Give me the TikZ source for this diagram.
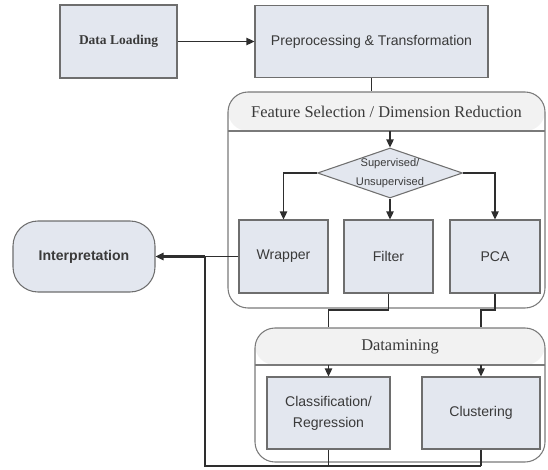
\documentclass[tikz,border=0pt]{standalone}
\usepackage{fontspec}
\setmainfont{Liberation Serif}
\setsansfont{Liberation Sans}
\usepackage{tikz}
\usetikzlibrary{positioning}
\usetikzlibrary{shapes.geometric}
\usetikzlibrary{arrows.meta}
\definecolor{boxfill}{HTML}{E3E7EF}
\definecolor{boxline}{HTML}{6E6E6E}
\definecolor{hdrfill}{HTML}{F2F2F2}
\definecolor{panelline}{HTML}{7A7A7A}
\definecolor{txt}{HTML}{3A3A3A}
\definecolor{wire}{HTML}{2E2E2E}
\tikzset{stepbox/.style={rectangle, draw=boxline, fill=boxfill, line width=0.9pt, inner sep=0pt, text=txt, align=center, font=\sffamily\fontsize{12}{18}\selectfont}}
\tikzset{decide/.style={diamond, draw=boxline, fill=boxfill, line width=0.9pt, inner sep=0pt, minimum width=43.5mm, minimum height=15mm}}
\tikzset{panel/.style={rectangle, rounded corners=6mm, draw=panelline, line width=0.9pt, fill=white, path picture={\fill[hdrfill] (path picture bounding box.north west) rectangle ([yshift=-#1]path picture bounding box.north east); \draw[panelline, line width=0.9pt] ([yshift=-#1]path picture bounding box.north west) -- ([yshift=-#1]path picture bounding box.north east);}}}
\tikzset{hdrtext/.style={text=txt, font=\fontsize{14}{16}\selectfont}}
\tikzset{conn/.style={draw=wire, line width=1.1pt}}
\tikzset{feedback/.style={draw=wire, line width=2pt}}
\tikzset{tip/.style={-{Triangle[length=2.4mm, width=2.2mm]}}}

\begin{document}
\begin{tikzpicture}[x=0.3mm, y=-0.3mm]
    \useasboundingbox (0,0) rectangle (548,470);

    % containers
    \node [panel=11.7mm, minimum width=95.1mm, minimum height=64.8mm](fsel) at (386.5,200){};
    \node [hdrtext](fseltitle) at (386.5,111.5){Feature Selection / Dimension Reduction};
    \node [panel=11.1mm, minimum width=87mm, minimum height=40.2mm](dmine) at (400,395){};
    \node [hdrtext](dminetitle) at (400,346.5){Datamining};
    \coordinate (fselhdr) at (386.5,131);
    \coordinate (dminehdr) at (400,365);

    % steps
    \node [stepbox, minimum width=35.1mm, minimum height=21.9mm, font=\bfseries\fontsize{11.5}{14}\selectfont](dload) at (118.5,41.5){Data Loading};
    \node [stepbox, minimum width=69.9mm, minimum height=21.6mm](prep) at (371.5,41.5){Preprocessing \& Transformation};
    \node [decide](sup) at (390,173){};
    \node [text=txt, align=center, font=\sffamily\fontsize{9.5}{16}\selectfont](suptext) at (sup.center){Supervised/\\Unsupervised};
    \node [stepbox, minimum width=26.7mm, minimum height=21.9mm](wrapper) at (283.5,256.5){Wrapper};
    \node [stepbox, minimum width=26.7mm, minimum height=21.9mm](filter) at (388.5,256.5){Filter};
    \node [stepbox, minimum width=27mm, minimum height=21.9mm](pca) at (495,256.5){PCA};
    \node [stepbox, rounded corners=7.5mm, minimum width=42.6mm, minimum height=21.3mm, font=\sffamily\bfseries\fontsize{12}{14}\selectfont](interp) at (84,256.5){Interpretation};
    \node [stepbox, minimum width=36.9mm, minimum height=21.6mm](classif) at (328.5,413){Classification/\\Regression};
    \node [stepbox, minimum width=35.4mm, minimum height=21.6mm](clust) at (481,413){Clustering};
    \coordinate (bend) at (0,310);
    \coordinate (fbcorner) at (205,466);

    \draw[conn, tip] (dload) -- (prep);
    \draw[conn] (prep.south) -- (prep.south |- fsel.north);
    \draw[conn, tip] (sup.north |- fselhdr) -- (sup.north);
    \draw[conn, tip] (sup.west) -| (wrapper.north);
    \draw[conn, tip] (sup.south) -- (filter.north -| sup.south);
    \draw[conn, tip] (sup.east) -| (pca.north);
    \draw[conn] (filter.south) -- (filter.south |- bend) -| (classif.north |- dmine.north);
    \draw[conn] (pca.south) -- (pca.south |- bend) -| (clust.north |- dmine.north);
    \draw[conn, tip] (classif.north |- dminehdr) -- (classif.north);
    \draw[conn, tip] (clust.north |- dminehdr) -- (clust.north);
    \draw[conn] (classif.south) -- (classif.south |- fbcorner);
    \draw[conn] (clust.south) -- (clust.south |- fbcorner);
    \draw[conn] (wrapper.west) -- (fbcorner |- wrapper.west);
    \draw[feedback] (clust.south |- fbcorner) -- (fbcorner) -- (fbcorner |- wrapper.west);
    \draw[feedback, tip] (fbcorner |- wrapper.west) -- (interp.east);
\end{tikzpicture}
\end{document}
